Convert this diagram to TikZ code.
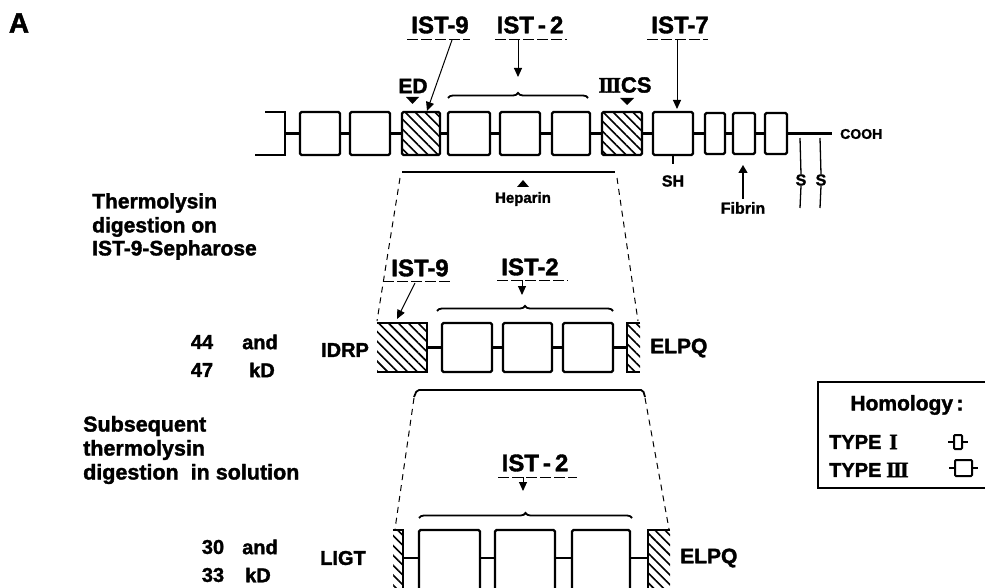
\documentclass[tikz,border=0pt]{standalone}
\usepackage{fontspec}
\setmainfont{Liberation Sans}[BoldFeatures={FakeBold=1.6}]
\newfontfamily\romanfont{Liberation Serif}[BoldFeatures={FakeBold=1.6}]
\usetikzlibrary{arrows.meta,patterns.meta,decorations.pathreplacing,calc}
\newcommand{\romIII}{{\romanfont\bfseries I\kern-1.6ptI\kern-1.6ptI}}
\newcommand{\romI}{{\romanfont\bfseries I}}
\begin{document}
\begin{tikzpicture}[x=1pt,y=-1pt,
  txt/.style={font=\bfseries\fontsize{#1}{#1}\selectfont, inner sep=0pt},
  dom/.style={draw, line width=2.4pt, rounded corners=1.5pt, inner sep=0pt, minimum width=#1},
  hA/.style={minimum height=43pt},
  hI/.style={minimum height=41pt},
  hB/.style={minimum height=49pt},
  hC/.style={minimum height=64pt},
  hatch/.style={pattern={Lines[angle=-45,distance=7pt,line width=1.6pt]}, inner sep=0pt, minimum width=#1},
  link/.style={line width=2.4pt},
  ul/.style={line width=1pt, dash pattern=on 11pt off 3pt},
  arr/.style={line width=1pt, -{Triangle[width=8pt,length=9pt]}},
  guide/.style={line width=1pt, dash pattern=on 6pt off 5pt},
  brc/.style={line width=1.8pt, decorate, decoration={brace, amplitude=5pt}},
  bar/.style={line width=1.8pt, rounded corners=2pt},
  tick/.style={line width=1.3pt}
]
\useasboundingbox (0,0) rectangle (985,588);
\fill[white] (0,0) rectangle (985,588);

% label A
\node[txt=28] (lA) at (19,23) {A};

% ===== top row =====
\coordinate (t0) at (285,133.5);
\draw[link] (265,112) -- (285,112) -- (285,155) -- (255,155);
\node[dom=40pt,hA] (t1) at (320,133.5) {};
\node[dom=40pt,hA] (t2) at (370,133.5) {};
\node[dom=38pt,hA,hatch=38pt] (t3) at (421,133.5) {};
\node[dom=42pt,hA] (t4) at (469,133.5) {};
\node[dom=40pt,hA] (t5) at (520,133.5) {};
\node[dom=38pt,hA] (t6) at (571,133.5) {};
\node[dom=40pt,hA,hatch=40pt] (t7) at (622,133.5) {};
\node[dom=40pt,hA] (t8) at (673,133.5) {};
\node[dom=20pt,hI] (t9) at (715,133.5) {};
\node[dom=22pt,hI] (t10) at (744,133.5) {};
\node[dom=22pt,hI] (t11) at (776,133.5) {};
\draw[link] (t0) -- (t1.west);
\foreach \a/\b in {t1/t2,t2/t3,t3/t4,t4/t5,t5/t6,t6/t7,t7/t8,t8/t9,t9/t10,t10/t11}
  \draw[link] (\a.east) -- (\b.west);
\coordinate (cend) at (832,133.5);
\draw[link] (t11.east) -- (cend);
\node[txt=14, anchor=west] (cooh) at (840,134) {COOH};

% S S
\node[txt=16] (s1) at (801,180) {S};
\node[txt=16] (s2) at (821,180) {S};
\draw[tick] (800,138) -- (s1.north);
\draw[tick] (s1.south) -- (800,208);
\draw[tick] (820,138) -- (s2.north);
\draw[tick] (s2.south) -- (820,208);

% SH
\node[txt=16] (sh) at (673,181) {SH};
\draw[tick] (t8.south) -- ++(0,8);

% Fibrin
\node[txt=16] (fib) at (743,208) {Fibrin};
\coordinate (fibtip) at (743,165);
\draw[line width=1.3pt, -{Triangle[width=9pt,length=8pt]}] (fib.north) ++(0,-3) -- (fibtip);

% IST-9 (top)
\node[txt=24] (i9) at (440,25) {IST-9};
\draw[ul] (407,40) -- (470,40);
\coordinate (i9a) at (452,40);
\coordinate (i9tip) at (427,111);
\draw[arr] (i9a) -- (i9tip);
% ED
\node[txt=21] (ed) at (413,86) {ED};
\fill (406,97) -- (419,97) -- (412.5,104) -- cycle;

% IST-2 (top)
\node[txt=24] (i2) at (530,25) {IST\,-\,2};
\draw[ul] (495,40) -- (567,40);
\coordinate (i2a) at (518,40);
\coordinate (i2tip) at (518,77);
\draw[arr] (i2a) -- (i2tip);
\draw[brc] (448,98) -- (588,98);

% IIICS
\node[txt=22] (cs) at (625,85) {\romIII CS};
\fill (620,98) -- (634,98) -- (627,105) -- cycle;

% IST-7
\node[txt=24] (i7) at (680,25) {IST-7};
\draw[ul] (647,40) -- (708,40);
\coordinate (i7a) at (677,40);
\coordinate (i7tip) at (677,109);
\draw[arr] (i7a) -- (i7tip);

% Heparin bar
\draw[bar] (402,172) -- (615,172);
\fill (517,187) -- (529,187) -- (523,180) -- cycle;
\node[txt=15] (hep) at (523,199) {Heparin};

% dashed guides 1
\draw[guide] (400,178) -- (377,321);
\draw[guide] (617,178) -- (638,321);

% left texts 1
\node[txt=21, anchor=west] (th1) at (92,203) {Thermolysin};
\node[txt=21, anchor=west] (th2) at (92,227) {digestion on};
\node[txt=21, anchor=west] (th3) at (92,250) {IST-9-Sepharose};

% ===== second row =====
\node[hB,hatch=50pt] (r1) at (402,347.5) {};
\draw[link] (r1.north west) -- (r1.north east) -- (r1.south east) -- (r1.south west);
\node[dom=50pt,hB] (r2) at (467,347.5) {};
\node[dom=49pt,hB] (r3) at (527.5,347.5) {};
\node[dom=50pt,hB] (r4) at (588,347.5) {};
\node[hB,hatch=13pt] (r5) at (633.5,347.5) {};
\draw[link] (r5.north east) -- (r5.north west) -- (r5.south west) -- (r5.south east);
\foreach \a/\b in {r1/r2,r2/r3,r3/r4,r4/r5}
  \draw[link] (\a.east) -- (\b.west);

\node[txt=24] (j9) at (420,268) {IST-9};
\draw[ul] (383,281) -- (453,281);
\coordinate (j9a) at (415,283);
\coordinate (j9tip) at (397,319);
\draw[arr] (j9a) -- (j9tip);
\node[txt=24] (j2) at (530,267) {IST-2};
\draw[ul] (497,280) -- (568,280);
\coordinate (j2a) at (522,280);
\coordinate (j2tip) at (522,295);
\draw[arr] (j2a) -- (j2tip);
\draw[brc] (437,311) -- (613,311);

\node[txt=20] (idrp) at (345,350) {IDRP};
\node[txt=21, anchor=west] (elpq1) at (650,348) {ELPQ};
\node[txt=20] (n44) at (202,342) {44};
\node[txt=20] (and1) at (260,342) {and};
\node[txt=20] (n47) at (202,370) {47};
\node[txt=20] (kd1) at (262,370) {kD};

% trapezoid 2
\draw[bar] (414,397) -- (417,390) -- (643,390) -- (645,397);
\draw[guide] (414,398) -- (395,529);
\draw[guide] (645,398) -- (669,529);

% left texts 2
\node[txt=21.5, anchor=west] (sb1) at (83,426) {Subsequent};
\node[txt=21.5, anchor=west] (sb2) at (83,450) {thermolysin};
\node[txt=21.5, anchor=west] (sb3) at (83,474) {digestion\ \ in\ solution};

% ===== third row =====
\coordinate (r3y) at (0,558);
\node[hC,hatch=10pt] (u0) at (398,562) {};
\draw[link] (u0.north west) -- (u0.north east) -- (u0.south east);
\node[dom=61pt,hC] (u1) at (449.5,562) {};
\node[dom=60pt,hC] (u2) at (525,562) {};
\node[dom=58pt,hC] (u3) at (601,562) {};
\node[hC,hatch=22pt] (u4) at (659,562) {};
\draw[link] (u4.north east) -- (u4.north west) -- (u4.south west);
\foreach \a/\b in {u0/u1,u1/u2,u2/u3,u3/u4}
  \draw[link] (\a.east |- r3y) -- (\b.west |- r3y);

\node[txt=24] (k2) at (535,463) {IST\,-\,2};
\draw[ul] (498,477) -- (577,477);
\coordinate (k2a) at (523,477);
\coordinate (k2tip) at (523,491);
\draw[arr] (k2a) -- (k2tip);
\draw[brc] (419,518) -- (632,518);

\node[txt=20] (ligt) at (343,558) {LIGT};
\node[txt=21, anchor=west] (elpq2) at (680,558) {ELPQ};
\node[txt=20] (n30) at (213,547) {30};
\node[txt=20] (and2) at (260,547) {and};
\node[txt=20] (n33) at (213,575) {33};
\node[txt=20] (kd2) at (258,575) {kD};

% ===== legend =====
\draw[line width=2pt] (1000,382) -- (818,382) -- (818,488) -- (1000,488);
\node[txt=21] (hom) at (907,405) {Homology\,:};
\node[txt=20, anchor=west] (ty1) at (829,442) {TYPE};
\node[txt=20, anchor=west] (ty3) at (829,470) {TYPE};
\node[txt=22, anchor=west] (rn1) at (889,442) {\romI};
\node[txt=22, anchor=west] (rn3) at (886,470) {\romIII};
\draw[line width=2pt] (948,442) -- (954,442);
\draw[line width=2pt, rounded corners=1pt] (954,435) rectangle (962,449);
\draw[line width=2pt] (962,442) -- (968,442);
\draw[line width=2pt] (949,468) -- (955,468);
\draw[line width=2pt, rounded corners=1pt] (955,460) rectangle (972,476);
\draw[line width=2pt] (972,468) -- (978,468);
\end{tikzpicture}
\end{document}
